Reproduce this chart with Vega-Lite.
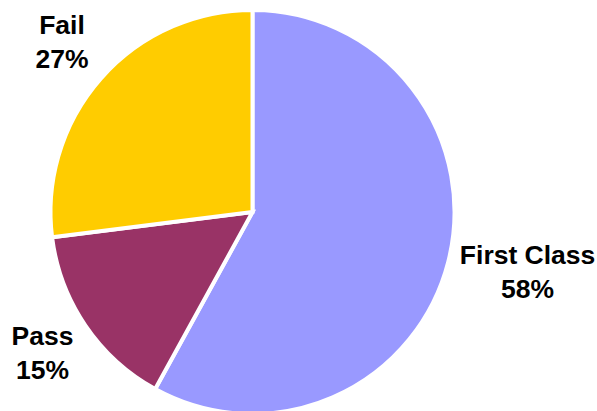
{
  "$schema": "https://vega.github.io/schema/vega-lite/v6.json",
  "width": 404,
  "height": 398,
  "autosize": "none",
  "padding": {"left": 50.5, "top": 13, "right": 142.5, "bottom": 0},
  "background": "white",
  "data": {
    "values": [
      {"category": "First Class", "percent": 58, "rank": 1},
      {"category": "Pass", "percent": 15, "rank": 2},
      {"category": "Fail", "percent": 27, "rank": 3}
    ]
  },
  "transform": [
    {"calculate": "datum.category + '\\n' + datum.percent + '%'", "as": "label"}
  ],
  "encoding": {
    "theta": {"field": "percent", "type": "quantitative", "stack": true},
    "order": {"field": "rank", "type": "quantitative"}
  },
  "layer": [
    {
      "mark": {"type": "arc", "outerRadius": 202, "stroke": "white", "strokeWidth": 4},
      "encoding": {
        "color": {
          "field": "category",
          "type": "nominal",
          "scale": {"domain": ["First Class", "Pass", "Fail"], "range": ["#9999FF", "#993366", "#FFCC00"]},
          "legend": null
        }
      }
    },
    {
      "mark": {"type": "text", "radius": 254, "dy": -18, "font": "Liberation Sans", "fontWeight": "bold", "fontSize": 26.5, "lineHeight": 34, "lineBreak": "\n", "align": "center", "baseline": "middle", "color": "black"},
      "encoding": {
        "text": {"condition": {"test": "datum.category !== 'First Class'", "field": "label"}, "value": ""}
      }
    },
    {
      "mark": {"type": "text", "radius": 284, "dy": -27, "font": "Liberation Sans", "fontWeight": "bold", "fontSize": 26.5, "lineHeight": 34, "lineBreak": "\n", "align": "center", "baseline": "middle", "color": "black"},
      "encoding": {
        "text": {"condition": {"test": "datum.category === 'First Class'", "field": "label"}, "value": ""}
      }
    }
  ]
}
